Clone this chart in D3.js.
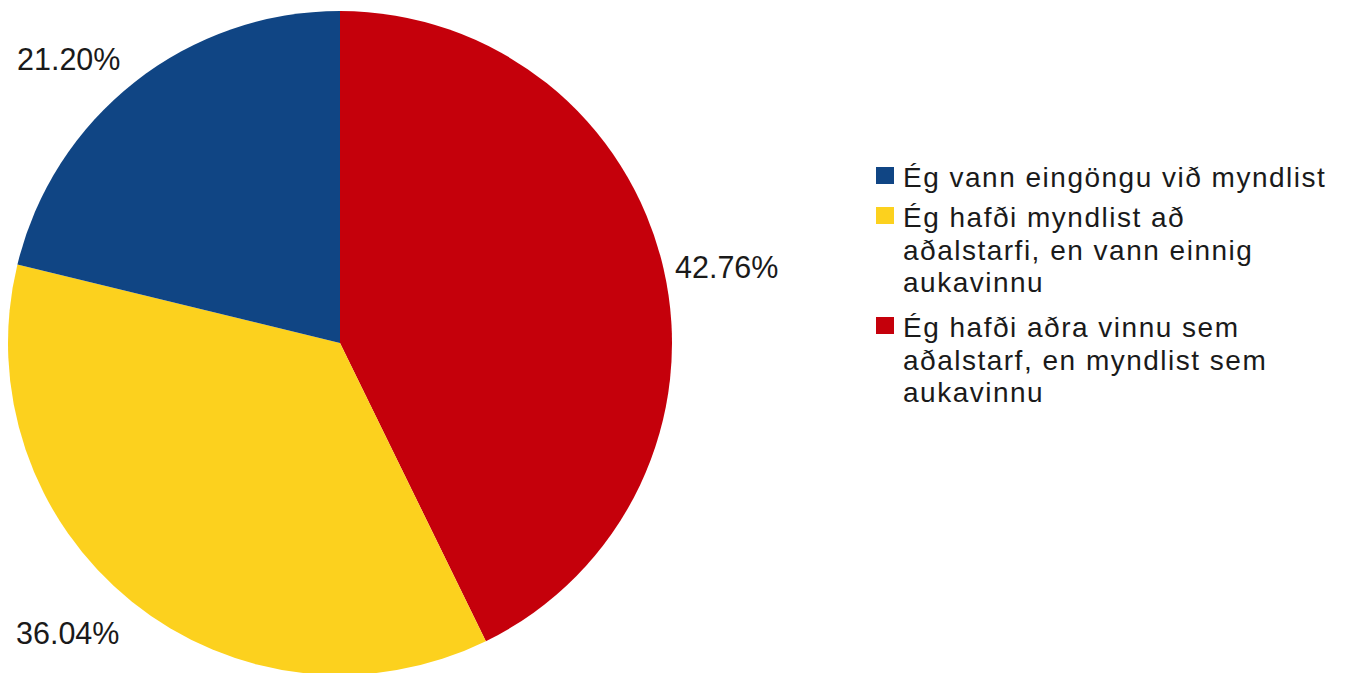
<!DOCTYPE html>
<html><head><meta charset="utf-8">
<script src="https://cdn.jsdelivr.net/npm/d3@7"></script>
<style>body{margin:0;background:#fff}svg{display:block}text{font-family:"Liberation Sans",Arial,Helvetica,sans-serif;fill:#1a1a1a}</style>
</head><body>
<svg id="c" width="1347" height="673"></svg>
<script>
const categories = [
  "Ég hafði aðra vinnu sem aðalstarf,  en myndlist sem aukavinnu",
  "Ég hafði myndlist að aðalstarfi, en vann einnig aukavinnu",
  "Ég vann eingöngu við myndlist"
];
const values = [42.76, 36.04, 21.20];
const labels = ["42.76%", "36.04%", "21.20%"];
const colors = ["#c5000b", "#fcd11e", "#104584"];
const legendOrder = [2, 1, 0];
const legendLines = [
  ["Ég vann eingöngu við myndlist"],
  ["Ég hafði myndlist að", "aðalstarfi, en vann einnig", "aukavinnu"],
  ["Ég hafði aðra vinnu sem", "aðalstarf,  en myndlist sem", "aukavinnu"]
];

const svg = d3.select("#c");
const cx = 340, cy = 343, r = 332;
const pie = d3.pie().sort(null).value(d => d)(values);
const arc = d3.arc().innerRadius(0).outerRadius(r);
const g = svg.append("g").attr("transform", `translate(${cx},${cy})`);
g.selectAll("path").data(pie).join("path")
  .attr("d", arc).attr("fill", (d, i) => colors[i]);

// value labels placed outside
const labelPos = [[675, 278], [16, 644], [17, 70]];
svg.selectAll("text.lbl").data(labels).join("text").attr("class", "lbl")
  .attr("x", (d, i) => labelPos[i][0]).attr("y", (d, i) => labelPos[i][1])
  .attr("font-size", 30.5).text(d => d);

// legend
const lg = svg.append("g");
const lh = 32.5;
let y = 187;
legendOrder.forEach((ci, k) => {
  const lines = legendLines[k];
  lg.append("rect").attr("x", 876).attr("y", y - 20).attr("width", 18).attr("height", 17).attr("fill", colors[ci]);
  const t = lg.append("text").attr("x", 903).attr("y", y).attr("font-size", 28).attr("letter-spacing", 1.5);
  lines.forEach((ln, j) => {
    t.append("tspan").attr("x", 903).attr("dy", j === 0 ? 0 : lh).text(ln);
  });
  y += (lines.length - 1) * lh + 40 + (lines.length > 1 ? 5 : 0);
});
</script>
</body></html>
